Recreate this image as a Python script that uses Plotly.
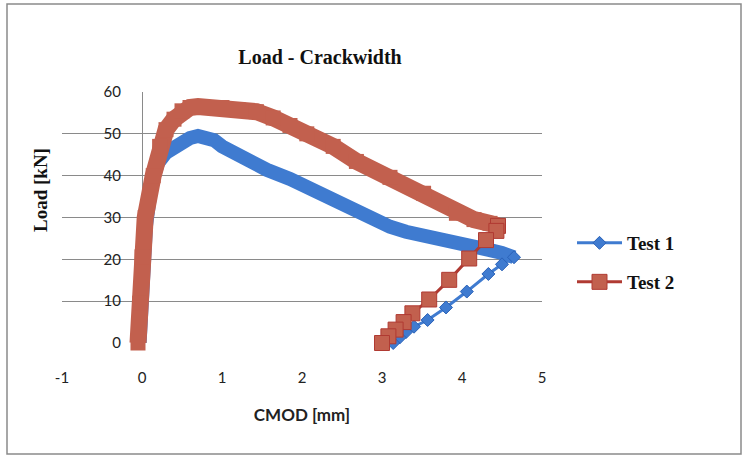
import plotly.graph_objects as go

# ---------------- data ----------------
# Test 1 (blue): loading / softening envelope (dense measurement band)
t1_env_cmod = [-0.03, 0.0, 0.05, 0.12, 0.2, 0.3, 0.4, 0.5, 0.6, 0.7, 0.8, 0.9, 1.0, 1.14,
               1.3, 1.56, 1.85, 2.0, 2.27, 2.5, 2.68, 2.9, 3.1, 3.3, 3.52, 3.75, 3.93,
               4.15, 4.35, 4.5, 4.65]
t1_env_kN = [0, 15, 28, 38, 43, 45.5, 47, 48.3, 49, 49.5, 49.4, 48.5, 47, 45.4,
             43.8, 41.4, 39.2, 37.8, 36, 33.8, 31.6, 29.5, 27.8, 26.6, 25.5, 24.6, 23.9,
             23, 22.2, 21.5, 20.5]
# Test 1 unloading branch
t1_unl_cmod = [4.65, 4.5, 4.33, 4.06, 3.8, 3.57, 3.4, 3.3, 3.22, 3.14]
t1_unl_kN = [20.5, 18.8, 16.5, 12.3, 8.5, 5.5, 3.9, 2.6, 1.3, 0]

# Test 2 (red): loading / softening envelope
t2_env_cmod = [-0.05, -0.03, 0.0, 0.04, 0.14, 0.22, 0.3, 0.4, 0.5, 0.6, 0.7, 1.0, 1.2,
               1.43, 1.64, 1.85, 2.06, 2.39, 2.68, 3.1, 3.52, 3.93, 4.15, 4.35, 4.45]
t2_env_kN = [0, 9.5, 20.6, 30, 40, 47, 51, 53.5, 55.5, 56.3, 56.5, 56.3, 55.8,
             55.3, 53.8, 52, 50, 47, 43.4, 39.6, 35.8, 31, 29.5, 28.6, 28]
# Test 2 unloading branch
t2_unl_cmod = [4.45, 4.43, 4.3, 4.09, 3.84, 3.59, 3.38, 3.27, 3.17, 3.08, 3.0]
t2_unl_kN = [28, 26.8, 24.6, 20.2, 15.1, 10.4, 7.1, 5.0, 3.2, 1.6, 0]

x_ticks = [-1, 0, 1, 2, 3, 4, 5]
x_tick_labels = ["-1", "0", "1", "2", "3", "4", "5"]
y_ticks = [0, 10, 20, 30, 40, 50, 60]

# ---------------- styling ----------------
BLUE = "#3f7bd0"
BLUE_DARK = "#2a62b8"
RED = "#c2604e"
RED_DARK = "#b03a32"

W, H = 746, 458
L, R, T, B = 62, 542, 92, 343  # plot area in pixels


def px_x(p):
    return (p - L) / (R - L)


def px_y(p):
    return (B - p) / (B - T)


fig = go.Figure()

fig.add_trace(go.Scatter(
    x=t1_env_cmod, y=t1_env_kN, mode="lines", showlegend=False,
    line=dict(color=BLUE, width=14), cliponaxis=False, hoverinfo="skip"))
fig.add_trace(go.Scatter(
    x=t1_unl_cmod, y=t1_unl_kN, mode="lines+markers", name="<b>Test 1</b>",
    line=dict(color=BLUE, width=3),
    marker=dict(symbol="diamond", size=10, color=BLUE, line=dict(color=BLUE_DARK, width=1)),
    cliponaxis=False))

fig.add_trace(go.Scatter(
    x=t2_env_cmod, y=t2_env_kN, mode="lines+markers", showlegend=False,
    line=dict(color=RED, width=17),
    marker=dict(symbol="square", size=15, color=RED, line=dict(color=RED, width=0)),
    cliponaxis=False, hoverinfo="skip"))
fig.add_trace(go.Scatter(
    x=t2_unl_cmod, y=t2_unl_kN, mode="lines+markers", name="<b>Test 2</b>",
    line=dict(color=RED_DARK, width=3),
    marker=dict(symbol="square", size=15, color=RED, line=dict(color=RED_DARK, width=1)),
    cliponaxis=False, legend="legend2"))

serif = "Liberation Serif"
sans = "Lato"

fig.update_layout(
    width=W, height=H,
    margin=dict(l=L, r=W - R, t=T, b=H - B),
    paper_bgcolor="white", plot_bgcolor="white",
    title=dict(text="<b>Load - Crackwidth</b>", x=320 / W, xanchor="center",
               y=1 - 57 / H, yanchor="middle",
               font=dict(family=serif, size=20, color="#111")),
    xaxis=dict(range=[-1, 5], tickvals=x_ticks, ticktext=x_tick_labels,
               showgrid=False, zeroline=False,
               showline=False, ticks="", ticklabelstandoff=24,
               tickfont=dict(family=sans, size=15, color="#222"),
               title=dict(text="<b>CMOD [mm]</b>", standoff=24,
                          font=dict(family=sans, size=17, color="#222"))),
    yaxis=dict(range=[0, 60], tickvals=y_ticks, showgrid=True, gridcolor="#8a8a8a",
               gridwidth=1, zeroline=False, showline=True, linecolor="#8a8a8a",
               linewidth=1, anchor="free", position=(142 - L) / (R - L),
               layer="below traces",
               ticks="", ticklabelstandoff=18,
               tickfont=dict(family=sans, size=15, color="#222")),
    annotations=[dict(text="<b>Load [kN]</b>", textangle=-90, xref="paper", yref="paper",
                      x=px_x(40), y=px_y(190), xanchor="center", yanchor="middle",
                      showarrow=False, font=dict(family=serif, size=19, color="#111"))],
    legend=dict(x=px_x(572), y=px_y(243), xanchor="left", yanchor="middle",
                font=dict(family=serif, size=19, color="#111"),
                bgcolor="rgba(0,0,0,0)", itemwidth=45),
    legend2=dict(x=px_x(572), y=px_y(282), xanchor="left", yanchor="middle",
                 font=dict(family=serif, size=19, color="#111"),
                 bgcolor="rgba(0,0,0,0)", itemwidth=45),
    shapes=[dict(type="rect", xref="paper", yref="paper",
                 x0=px_x(7), x1=px_x(741), y0=px_y(454), y1=px_y(4),
                 line=dict(color="#8a8a8a", width=1.5), layer="below")],
)

fig.write_html("out.html")
